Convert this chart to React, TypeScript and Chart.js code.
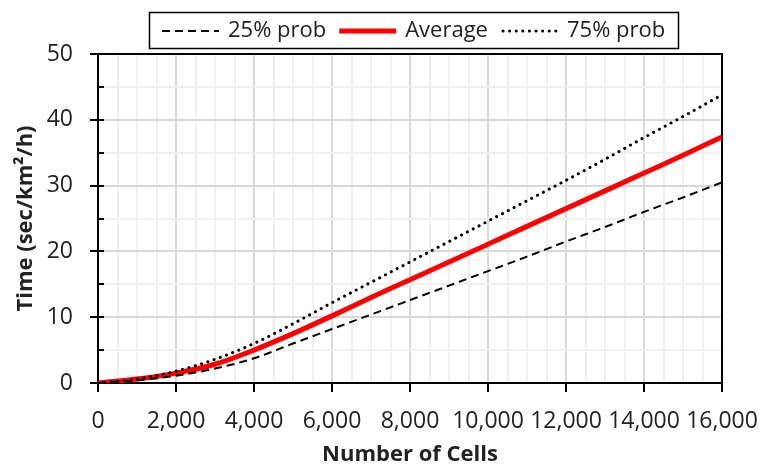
import React, { useEffect, useRef } from 'react';
import { Chart, registerables } from 'chart.js';

Chart.register(...registerables);

// ---- data ----
const cells = [0, 1000, 2000, 3000, 4000, 5000, 6000, 7000, 8000, 9000, 10000, 11000, 12000, 13000, 14000, 15000, 16000];
const prob25 = [0, 0.4, 1.1, 2.2, 3.75, 6.0, 8.2, 10.4, 12.6, 14.8, 17.0, 19.2, 21.5, 23.7, 26.0, 28.2, 30.5];
const average = [0, 0.6, 1.5, 2.85, 5.0, 7.5, 10.2, 13.0, 15.7, 18.4, 21.1, 23.8, 26.5, 29.2, 31.9, 34.6, 37.4];
const prob75 = [0, 0.6, 1.8, 3.6, 6.0, 9.0, 12.2, 15.3, 18.4, 21.5, 24.6, 27.7, 30.8, 34.0, 37.3, 40.5, 43.8];
const seriesNames = ['25% prob', 'Average', '75% prob'];
const xTitle = 'Number of Cells';
const yTitle = 'Time (sec/km\u00B2/h)';

const FONT = '"Open Sans", "Noto Sans", sans-serif';
const TEXT = '#222222';

const pts = (ys: number[]) => cells.map((x, i) => ({ x, y: ys[i] }));

const framePlugin = {
  id: 'frameTicks',
  beforeDatasetsDraw(chart: any) {
    const { ctx, chartArea } = chart;
    const xs = chart.scales.x;
    const ys = chart.scales.y;
    ctx.save();
    ctx.strokeStyle = '#000';
    ctx.lineWidth = 2;
    ctx.beginPath();
    ctx.moveTo(chartArea.left, chartArea.top);
    ctx.lineTo(chartArea.right, chartArea.top);
    ctx.lineTo(chartArea.right, chartArea.bottom);
    ctx.stroke();
    for (let v = 0; v <= 16000; v += 2000) {
      const px = Math.round(xs.getPixelForValue(v));
      ctx.beginPath();
      ctx.moveTo(px, chartArea.bottom);
      ctx.lineTo(px, chartArea.bottom + 9);
      ctx.stroke();
    }
    for (let v = 0; v <= 50; v += 5) {
      const py = Math.round(ys.getPixelForValue(v));
      const major = v % 10 === 0;
      ctx.beginPath();
      ctx.moveTo(chartArea.left - (major ? 8 : 0), py);
      ctx.lineTo(chartArea.left + 6, py);
      ctx.stroke();
    }
    ctx.restore();
  },
};

const legendPlugin = {
  id: 'boxLegend',
  afterDraw(chart: any) {
    const ctx = chart.ctx;
    const ds = chart.data.datasets;
    ctx.save();
    ctx.font = `22px ${FONT}`;
    const sampleW = 57;
    const gapST = 9;
    const gapTS = 13;
    const padX = 13;
    const widths = ds.map((d: any) => ctx.measureText(d.label).width);
    let total = padX * 2;
    widths.forEach((w: number, i: number) => {
      total += sampleW + gapST + w + (i > 0 ? gapTS : 0);
    });
    const cx = 414;
    const left = Math.round(cx - total / 2);
    const top = 12;
    const h = 36;
    ctx.lineWidth = 1.5;
    ctx.strokeStyle = '#000';
    ctx.strokeRect(left + 0.5, top + 0.5, Math.round(total), h);
    let x = left + padX;
    const y = top + h / 2 + 1;
    ds.forEach((d: any, i: number) => {
      if (i > 0) x += gapTS;
      ctx.save();
      ctx.strokeStyle = d.borderColor;
      ctx.lineWidth = d.borderWidth;
      ctx.lineCap = d.borderCapStyle || 'butt';
      ctx.setLineDash(d.borderDash || []);
      ctx.beginPath();
      ctx.moveTo(x + (d.borderCapStyle === 'round' ? 2 : 0), y);
      ctx.lineTo(x + sampleW, y);
      ctx.stroke();
      ctx.restore();
      x += sampleW + gapST;
      ctx.fillStyle = TEXT;
      ctx.textAlign = 'left';
      ctx.textBaseline = 'middle';
      ctx.fillText(d.label, x, y);
      x += widths[i];
    });
    ctx.restore();
  },
};

export default function App() {
  const ref = useRef<HTMLCanvasElement | null>(null);

  useEffect(() => {
    document.body.style.margin = '0';
    if (!ref.current) return;
    const chart = new Chart(ref.current, {
      type: 'line',
      data: {
        datasets: [
          {
            label: seriesNames[0],
            data: pts(prob25),
            borderColor: '#000000',
            borderWidth: 2,
            borderDash: [8, 5],
            pointRadius: 0,
            cubicInterpolationMode: 'monotone',
            fill: false,
            order: 1,
          },
          {
            label: seriesNames[1],
            data: pts(average),
            borderColor: '#ff0000',
            borderWidth: 5,
            pointRadius: 0,
            cubicInterpolationMode: 'monotone',
            fill: false,
            order: 2,
          },
          {
            label: seriesNames[2],
            data: pts(prob75),
            borderColor: '#000000',
            borderWidth: 3,
            borderDash: [0.1, 6.5],
            borderCapStyle: 'round',
            pointRadius: 0,
            cubicInterpolationMode: 'monotone',
            fill: false,
            order: 0,
          },
        ],
      } as any,
      options: {
        animation: false,
        responsive: false,
        devicePixelRatio: 1,
        layout: { padding: { top: 54, right: 39, left: 0, bottom: 0 } },
        plugins: {
          legend: { display: false },
          tooltip: { enabled: false },
        },
        scales: {
          x: {
            type: 'linear',
            min: 0,
            max: 16000,
            afterFit: (s: any) => {
              s.height = 85;
              s.paddingLeft = 0;
              s.paddingRight = 0;
            },
            ticks: {
              stepSize: 500,
              autoSkip: false,
              maxRotation: 0,
              minRotation: 0,
              padding: 25,
              color: TEXT,
              font: { family: FONT, size: 23 },
              callback: (v: any) => (Number(v) % 2000 === 0 ? Number(v).toLocaleString('en-US') : ''),
            },
            grid: {
              drawTicks: false,
              lineWidth: 2,
              color: (c: any) => (c.tick && c.tick.value % 2000 === 0 ? '#d9d9d9' : '#f0f0f0'),
            },
            border: { display: true, color: '#000', width: 2 },
            title: {
              display: true,
              text: xTitle,
              color: TEXT,
              font: { family: FONT, size: 22, weight: 'bold' },
              padding: { top: 0, bottom: 0 },
            },
          },
          y: {
            type: 'linear',
            min: 0,
            max: 50,
            afterFit: (s: any) => {
              s.width = 98;
              s.paddingTop = 0;
              s.paddingBottom = 0;
            },
            ticks: {
              stepSize: 5,
              autoSkip: false,
              padding: 25,
              color: TEXT,
              font: { family: FONT, size: 23 },
              callback: (v: any) => (Number(v) % 10 === 0 ? String(v) : ''),
            },
            grid: {
              drawTicks: false,
              lineWidth: 2,
              color: (c: any) => (c.tick && c.tick.value % 10 === 0 ? '#d9d9d9' : '#f0f0f0'),
            },
            border: { display: true, color: '#000', width: 2 },
            title: {
              display: true,
              text: yTitle,
              color: TEXT,
              font: { family: FONT, size: 22, weight: 'bold' },
              padding: { top: 13, bottom: 0 },
            },
          },
        },
      } as any,
      plugins: [framePlugin, legendPlugin],
    });
    return () => chart.destroy();
  }, []);

  return (
    <div style={{ width: 761, height: 468 }}>
      <canvas ref={ref} width={761} height={468} style={{ display: 'block', width: 761, height: 468 }} />
    </div>
  );
}
